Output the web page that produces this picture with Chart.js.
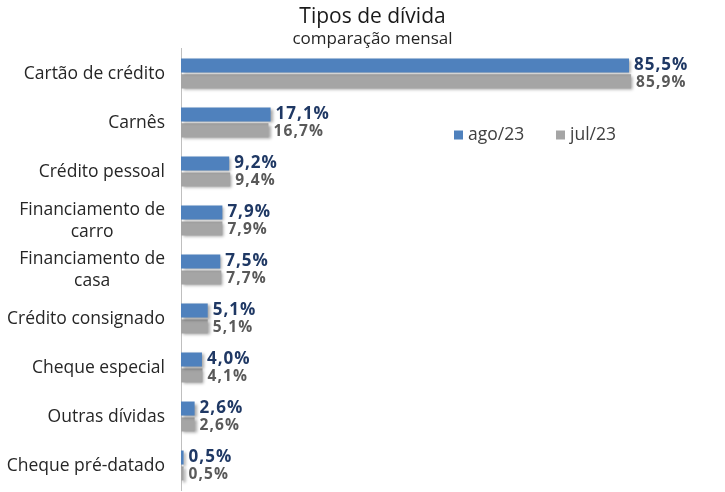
<!DOCTYPE html>
<html>
<head>
<meta charset="utf-8">
<script src="https://cdn.jsdelivr.net/npm/chart.js@4/dist/chart.umd.min.js"></script>
<style>
  body { margin: 0; background: #ffffff; }
</style>
</head>
<body>
<canvas id="plot-dividas" width="725" height="492"></canvas>
<script>
const categories = [
  "Cartão de crédito",
  "Carnês",
  "Crédito pessoal",
  ["Financiamento de", "carro"],
  ["Financiamento de", "casa"],
  "Crédito consignado",
  "Cheque especial",
  "Outras dívidas",
  "Cheque pré-datado",
];
const ago23 = [85.5, 17.1, 9.2, 7.9, 7.5, 5.1, 4.0, 2.6, 0.5];
const jul23 = [85.9, 16.7, 9.4, 7.9, 7.7, 5.1, 4.1, 2.6, 0.5];
const seriesNames = ["ago/23", "jul/23"];

const fontFamily = "'Open Sans', Lato, sans-serif";
const blue = "#4F81BD";
const gray = "#A5A5A5";

// soft shadow under the bars, like the office export
const barShadow = {
  id: "barShadow",
  beforeDatasetsDraw(chart) {
    const ctx = chart.ctx;
    ctx.save();
    ctx.shadowColor = "rgba(0,0,0,0.35)";
    ctx.shadowBlur = 3;
    ctx.shadowOffsetX = 2;
    ctx.shadowOffsetY = 2;
  },
  afterDatasetsDraw(chart) {
    chart.ctx.restore();
  },
};

// value labels at the end of each bar
const valueLabels = {
  id: "valueLabels",
  afterDatasetsDraw(chart) {
    const ctx = chart.ctx;
    const styles = [
      { font: `bold 17px ${fontFamily}`, color: "#1F3864", dy: 0, spacing: "1px" },
      { font: `bold 15.5px ${fontFamily}`, color: "#595959", dy: 1, spacing: "1.1px" },
    ];
    ctx.save();
    ctx.textAlign = "left";
    ctx.textBaseline = "middle";
    chart.data.datasets.forEach((ds, d) => {
      const meta = chart.getDatasetMeta(d);
      ctx.font = styles[d].font;
      ctx.fillStyle = styles[d].color;
      ctx.letterSpacing = styles[d].spacing;
      meta.data.forEach((bar, i) => {
        const txt = ds.data[i].toFixed(1).replace(".", ",") + "%";
        ctx.fillText(txt, bar.x + 5, bar.y + styles[d].dy);
      });
    });
    ctx.restore();
  },
};

// category names, multi-line ones centred on their longest line
const categoryLabels = {
  id: "categoryLabels",
  afterDraw(chart) {
    const ctx = chart.ctx;
    const yScale = chart.scales.y;
    ctx.save();
    ctx.font = `17.5px ${fontFamily}`;
    ctx.fillStyle = "#262626";
    ctx.textAlign = "center";
    ctx.textBaseline = "middle";
    const right = yScale.right - 16;
    const lineHeight = 22;
    categories.forEach((cat, i) => {
      const lines = Array.isArray(cat) ? cat : [cat];
      const y = yScale.getPixelForTick(i) + 1;
      const maxW = Math.max(...lines.map((l) => ctx.measureText(l).width));
      lines.forEach((l, j) => {
        ctx.fillText(l, right - maxW / 2, y + (j - (lines.length - 1) / 2) * lineHeight);
      });
    });
    ctx.restore();
  },
};

// legend sitting inside the plot, right of the Carnês bars
const innerLegend = {
  id: "innerLegend",
  afterDraw(chart) {
    const ctx = chart.ctx;
    const items = [
      { x: 454, color: blue, text: seriesNames[0] },
      { x: 556, color: gray, text: seriesNames[1] },
    ];
    const y = 135;
    ctx.save();
    ctx.font = `17.5px ${fontFamily}`;
    ctx.textBaseline = "middle";
    ctx.textAlign = "left";
    items.forEach((it) => {
      ctx.fillStyle = it.color;
      ctx.fillRect(it.x, y - 4.5, 9, 9);
      ctx.fillStyle = "#404040";
      ctx.fillText(it.text, it.x + 14, y);
    });
    ctx.restore();
  },
};

function makeChart() {
  let canvas = document.getElementById("plot-dividas");
  const myChart = new Chart(canvas, {
    type: "bar",
    data: {
      labels: categories,
      datasets: [
        {
          label: seriesNames[0],
          data: ago23,
          backgroundColor: blue,
          categoryPercentage: 0.65,
          barPercentage: 0.88,
        },
        {
          label: seriesNames[1],
          data: jul23,
          backgroundColor: gray,
          categoryPercentage: 0.65,
          barPercentage: 0.88,
        },
      ],
    },
    options: {
      indexAxis: "y",
      responsive: false,
      animation: false,
      layout: {
        padding: { left: 40, right: 20, top: 0, bottom: 2 },
      },
      scales: {
        x: {
          display: false,
          min: 0,
          max: 100,
        },
        y: {
          grid: { display: false },
          border: { display: true, color: "#BFBFBF", width: 1 },
          ticks: { display: false },
          afterFit(scale) {
            scale.width = 141;
          },
        },
      },
      plugins: {
        legend: { display: false },
        tooltip: { enabled: false },
        title: {
          display: true,
          text: "Tipos de dívida",
          color: "#1A1A1A",
          font: { family: fontFamily, size: 21, weight: "normal", lineHeight: 1.2 },
          padding: { top: 4, bottom: 1 },
        },
        subtitle: {
          display: true,
          text: "comparação mensal",
          color: "#262626",
          font: { family: fontFamily, size: 17, weight: "normal", lineHeight: 1.1 },
          padding: { top: 0, bottom: 0 },
        },
      },
    },
    plugins: [barShadow, valueLabels, categoryLabels, innerLegend],
  });
}

makeChart();
</script>
</body>
</html>
